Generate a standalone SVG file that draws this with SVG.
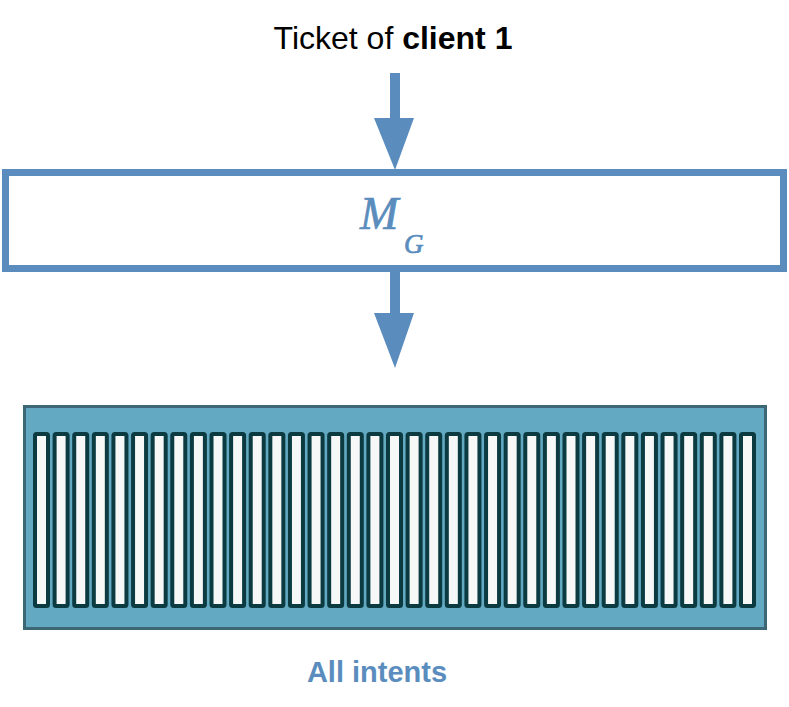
<svg xmlns="http://www.w3.org/2000/svg" width="789" height="707" viewBox="0 0 789 707">
<style>
.arrow{fill:#5a8dbd}
.bar{fill:#f6f8f8;stroke:#0b3a41;stroke-width:4}
.lbl{font-family:"Liberation Sans",Arial,sans-serif}
.math{font-family:"Liberation Serif","Times New Roman",serif;font-style:italic;fill:#5a8dbd;stroke:#5a8dbd;stroke-width:0.7}
</style>
<defs>
<rect id="b" class="bar" x="0" y="434" width="13" height="172" rx="1.5"/>
</defs>
<g id="label-ticket">
<text class="lbl" x="393" y="49" font-size="32" text-anchor="middle" fill="#000">Ticket of <tspan font-weight="bold">client 1</tspan></text>
</g>
<g id="connectors">
<rect class="arrow" x="390" y="73" width="10" height="47"/>
<polygon class="arrow" points="374,118 414,118 395,170"/>
<rect class="arrow" x="390" y="268" width="10" height="47"/>
<polygon class="arrow" points="374,313 414,313 395,368"/>
</g>
<g id="node-mg">
<rect x="5.5" y="172.5" width="778" height="96" fill="#fff" stroke="#5a8dbd" stroke-width="7"/>
<text class="math" x="360" y="229" font-size="46">M</text>
<text class="math" x="404" y="253" font-size="27">G</text>
</g>
<g id="node-intents">
<rect x="24.5" y="406.5" width="741" height="222" fill="#62a9c1" stroke="#3e6776" stroke-width="3"/>
<use href="#b" x="35"/><use href="#b" x="54.61"/><use href="#b" x="74.22"/><use href="#b" x="93.83"/><use href="#b" x="113.44"/><use href="#b" x="133.06"/><use href="#b" x="152.67"/><use href="#b" x="172.28"/><use href="#b" x="191.89"/><use href="#b" x="211.5"/><use href="#b" x="231.11"/><use href="#b" x="250.72"/><use href="#b" x="270.33"/><use href="#b" x="289.94"/><use href="#b" x="309.56"/><use href="#b" x="329.17"/><use href="#b" x="348.78"/><use href="#b" x="368.39"/><use href="#b" x="388"/><use href="#b" x="407.61"/><use href="#b" x="427.22"/><use href="#b" x="446.83"/><use href="#b" x="466.44"/><use href="#b" x="486.06"/><use href="#b" x="505.67"/><use href="#b" x="525.28"/><use href="#b" x="544.89"/><use href="#b" x="564.5"/><use href="#b" x="584.11"/><use href="#b" x="603.72"/><use href="#b" x="623.33"/><use href="#b" x="642.94"/><use href="#b" x="662.56"/><use href="#b" x="682.17"/><use href="#b" x="701.78"/><use href="#b" x="721.39"/><use href="#b" x="741"/>
</g>
<g id="label-intents">
<text class="lbl" x="377" y="682" font-size="29" font-weight="bold" text-anchor="middle" fill="#5a8dbd">All intents</text>
</g>
</svg>
